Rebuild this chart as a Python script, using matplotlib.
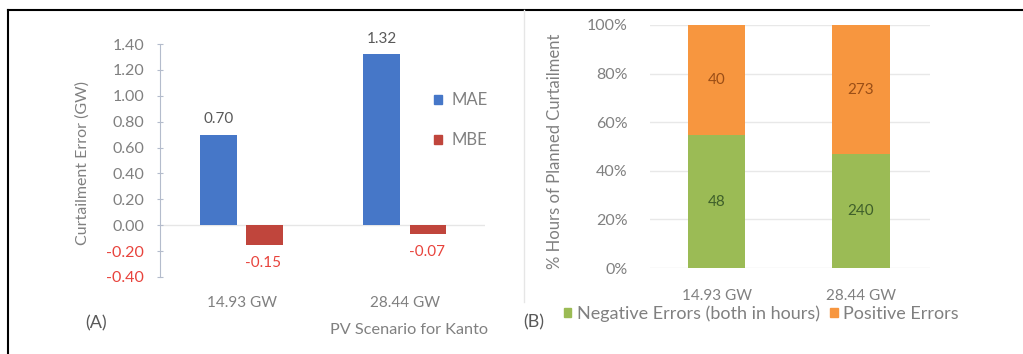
import matplotlib
matplotlib.use("Agg")
import matplotlib.pyplot as plt
import numpy as np
from matplotlib.patches import Patch
from matplotlib.lines import Line2D
from matplotlib.transforms import Bbox, TransformedBbox

plt.rcParams['font.family'] = ['Lato', 'DejaVu Sans']

# ---- data ----
scenarios = ["14.93 GW", "28.44 GW"]
mae = [0.70, 1.32]
mbe = [-0.15, -0.07]
neg_hours = [48, 240]
pos_hours = [40, 273]
left_yticks = [-0.40, -0.20, 0.00, 0.20, 0.40, 0.60, 0.80, 1.00, 1.20, 1.40]
right_yticks = [0.0, 0.2, 0.4, 0.6, 0.8, 1.0]
right_yticklabels = ["0%", "20%", "40%", "60%", "80%", "100%"]

# ---- style ----
BLUE = "#4677c8"
RED = "#c0453c"
RED_TXT = "#e8433c"
GREEN = "#9bbb55"
ORANGE = "#f7963f"
GREY = "#808080"
DARK = "#595959"
AXIS = "#b4bccc"
FS = 11

W, H = 1023, 354
fig = plt.figure(figsize=(W / 100, H / 100), dpi=100)


def box(x0, y0, x1, y1):
    return [x0 / W, 1 - y1 / H, (x1 - x0) / W, (y1 - y0) / H]


x = np.arange(len(scenarios))

# ---- panel A: curtailment error ----
axA = fig.add_axes(box(160, 44, 485, 277))
bw, off = 0.226, 0.141
axA.bar(x - off, mae, bw, color=BLUE, label="MAE", zorder=2)
axA.bar(x + off, mbe, bw, color=RED, label="MBE", zorder=2)
axA.set_xlim(-0.5, 1.49)
axA.set_ylim(-0.4, 1.4)
axA.axhline(0, color="#e6e6e6", lw=1, zorder=1)
for s in ("top", "right", "bottom"):
    axA.spines[s].set_visible(False)
axA.spines["left"].set_color(AXIS)
axA.set_yticks(left_yticks)
axA.set_yticklabels([f"{v:.2f}" for v in left_yticks])
for v, lab in zip(left_yticks, axA.get_yticklabels()):
    lab.set_color(RED_TXT if v < 0 else GREY)
axA.tick_params(axis="y", direction="inout", length=5, color=AXIS, pad=9, labelsize=11.5)
axA.set_xticks(x)
axA.set_xticklabels(scenarios)
axA.tick_params(axis="x", length=0, pad=14, labelsize=FS, labelcolor=GREY)
axA.set_ylabel("Curtailment Error (GW)", color=GREY, fontsize=11.5)
axA.yaxis.set_label_coords(-0.215, 0.49)

for i, v in enumerate(mae):
    axA.annotate(f"{v:.2f}", (x[i] - off, v), xytext=(0, 6), textcoords="offset points",
                 ha="center", va="bottom", color=DARK, fontsize=FS)
for i, v in enumerate(mbe):
    axA.annotate(f"{v:.2f}", (x[i] + off, v), xytext=(-1, -8), textcoords="offset points",
                 ha="center", va="top", color=RED_TXT, fontsize=FS)

hA = [Patch(color=BLUE), Patch(color=RED)]
axA.legend(hA, ["MAE", "MBE"], loc="upper left", bbox_to_anchor=(434 / W, 1 - 92 / H),
           bbox_transform=fig.transFigure, frameon=False, handlelength=0.45,
           handleheight=0.45, handletextpad=0.6, labelspacing=1.45, fontsize=12,
           labelcolor=GREY, borderpad=0, borderaxespad=0)

fig.text(409 / W, 1 - 330 / H, "PV Scenario for Kanto", ha="center", va="center",
         color=GREY, fontsize=11.7)
fig.text(96 / W, 1 - 323 / H, "(A)", ha="center", va="center", color=DARK, fontsize=13)

# ---- panel B: share of planned curtailment hours ----
axB = fig.add_axes(box(650, 25, 930, 268))
tot = np.array(neg_hours) + np.array(pos_hours)
neg_share = np.array(neg_hours) / tot
pos_share = np.array(pos_hours) / tot
bwB = 0.396
axB.bar(x, neg_share, bwB, color=GREEN, label="Negative Errors (both in hours)", zorder=2)
axB.bar(x, pos_share, bwB, bottom=neg_share, color=ORANGE, label="Positive Errors", zorder=2)
axB.set_xlim(-0.465, 1.479)
axB.set_ylim(0, 1)
axB.set_yticks(right_yticks)
axB.set_yticklabels(right_yticklabels)
axB.grid(axis="y", color="#e8e8e8", lw=1)
axB.set_axisbelow(True)
for s in axB.spines.values():
    s.set_visible(False)
axB.tick_params(axis="y", length=0, pad=16, labelsize=11.5, labelcolor=GREY)
axB.set_xticks(x)
axB.set_xticklabels(scenarios)
axB.tick_params(axis="x", length=0, pad=15, labelsize=FS, labelcolor=GREY)
axB.set_ylabel("% Hours of Planned Curtailment", color=GREY, fontsize=12)
axB.yaxis.set_label_coords(-0.311, 0.48)

for i in range(len(scenarios)):
    axB.text(x[i], neg_share[i] / 2, str(neg_hours[i]), ha="center", va="center",
             color="#3f5f2a", fontsize=FS)
    axB.text(x[i], neg_share[i] + pos_share[i] / 2, str(pos_hours[i]), ha="center",
             va="center", color="#9a4e16", fontsize=FS)

hB = [Patch(color=GREEN), Patch(color=ORANGE)]
legB = axB.legend(hB, ["Negative Errors (both in hours)", "Positive Errors"],
                  loc="center left", bbox_to_anchor=(564 / W, 1 - 314 / H),
                  bbox_transform=fig.transFigure, ncol=2, frameon=False,
                  handlelength=0.4, handleheight=0.4, handletextpad=0.3,
                  columnspacing=0.6, fontsize=13, labelcolor=GREY, borderpad=0,
                  borderaxespad=0)
clip = TransformedBbox(Bbox([[0, 0], [958 / W, 1]]), fig.transFigure)
for t in legB.get_texts():
    t.set_clip_box(clip)
    t.set_clip_on(True)

fig.text(534 / W, 1 - 322 / H, "(B)", ha="center", va="center", color=DARK, fontsize=13)

# ---- table border and panel separator ----
fig.add_artist(Line2D([8 / W, 1], [1 - 9.5 / H] * 2, color="black", lw=1.5,
                      transform=fig.transFigure))
fig.add_artist(Line2D([8 / W] * 2, [0, 1 - 9.5 / H], color="black", lw=1.5,
                      transform=fig.transFigure))
fig.add_artist(Line2D([524 / W] * 2, [1 - 302 / H, 1 - 10 / H], color="#e6e6e6", lw=1,
                      transform=fig.transFigure))

fig.savefig("out.png", dpi=100)
